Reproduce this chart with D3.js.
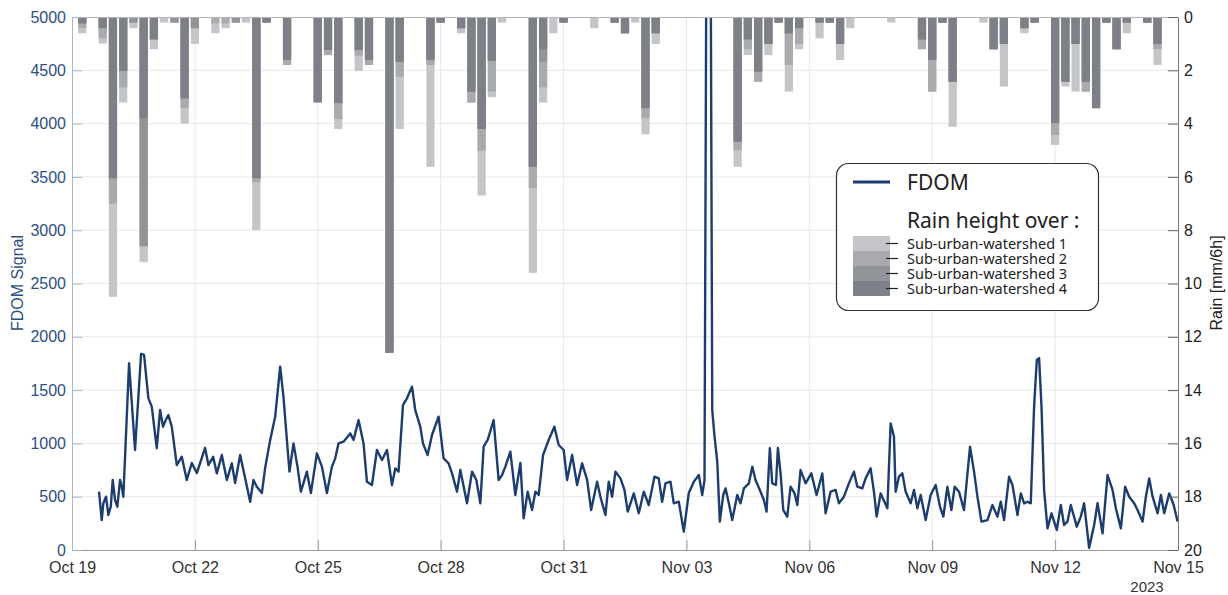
<!DOCTYPE html>
<html><head><meta charset="utf-8">
<script src="https://cdn.jsdelivr.net/npm/d3@7"></script>
<style>body{margin:0;background:#fff;} svg{display:block;}</style>
</head><body><svg id="c" width="1228" height="595"></svg>
<script>
// ---------- DATA ----------
const startDay = "2023-10-19";
const endDay = "2023-11-15";
const xTickDates = ["2023-10-19","2023-10-22","2023-10-25","2023-10-28","2023-10-31","2023-11-03","2023-11-06","2023-11-09","2023-11-12","2023-11-15"];
const fdomTicks = [0,500,1000,1500,2000,2500,3000,3500,4000,4500,5000];
const rainTicks = [0,2,4,6,8,10,12,14,16,18,20];
const seriesNames = ["Sub-urban-watershed 1","Sub-urban-watershed 2","Sub-urban-watershed 3","Sub-urban-watershed 4"];

// FDOM: days since Oct 19 00:00 and signal value
const fdomDay = [0.66,0.726,0.765,0.831,0.887,0.946,0.994,1.051,1.107,1.173,1.214,1.253,1.393,1.539,1.686,1.759,1.864,1.947,2.069,2.150,2.223,2.289,2.353,2.436,2.558,2.680,2.802,2.924,3.047,3.249,3.330,3.445,3.535,3.657,3.780,3.902,3.982,4.105,4.227,4.349,4.430,4.512,4.635,4.715,4.838,4.960,5.082,5.162,5.246,5.309,5.407,5.505,5.588,5.734,5.832,5.978,6.101,6.223,6.345,6.426,6.506,6.628,6.792,6.873,6.995,7.117,7.200,7.322,7.444,7.567,7.689,7.811,7.892,7.972,8.080,8.177,8.300,8.380,8.502,8.568,8.681,8.788,8.949,9.072,9.194,9.277,9.399,9.480,9.643,9.766,9.871,9.968,10.049,10.147,10.293,10.415,10.498,10.579,10.701,10.823,10.946,11.026,11.124,11.231,11.312,11.393,11.500,11.637,11.776,11.881,12.003,12.086,12.209,12.331,12.453,12.575,12.673,12.819,12.900,13.022,13.103,13.186,13.267,13.389,13.487,13.567,13.714,13.836,13.958,14.080,14.219,14.324,14.407,14.488,14.610,14.691,14.813,14.935,15.057,15.180,15.302,15.385,15.441,15.490,15.588,15.630,15.686,15.752,15.815,15.898,15.954,16.035,16.118,16.240,16.321,16.401,16.524,16.607,16.687,16.809,16.890,16.956,17.036,17.095,17.185,17.232,17.298,17.364,17.461,17.542,17.640,17.706,17.786,17.909,18.048,18.177,18.317,18.397,18.519,18.641,18.722,18.844,18.966,19.089,19.171,19.293,19.374,19.496,19.577,19.643,19.741,19.905,19.985,20.066,20.107,20.188,20.271,20.352,20.474,20.555,20.637,20.718,20.840,20.962,21.084,21.190,21.272,21.370,21.468,21.549,21.654,21.776,21.923,22.021,22.104,22.202,22.348,22.470,22.592,22.673,22.754,22.876,22.959,23.081,23.162,23.243,23.325,23.406,23.487,23.553,23.609,23.668,23.731,23.814,23.912,24.041,24.139,24.219,24.302,24.383,24.529,24.627,24.708,24.830,24.953,25.036,25.158,25.280,25.402,25.483,25.605,25.710,25.808,25.930,26.013,26.135,26.216,26.297,26.380,26.502,26.583,26.664,26.786,26.894,26.991];
const fdomValue = [547,281,438,500,328,406,657,469,406,657,594,500,1752,938,1839,1830,1425,1345,955,1313,1157,1219,1266,1157,797,875,657,816,722,957,797,875,719,891,657,813,628,891,672,453,657,594,534,770,1032,1250,1720,1438,1032,735,1000,782,547,735,534,907,782,534,782,860,1000,1016,1094,1032,1219,1000,641,610,938,844,938,610,766,735,1360,1423,1532,1313,1157,1000,891,1079,1250,860,813,719,547,750,438,735,657,438,969,1032,1219,657,703,782,922,516,816,297,547,375,547,516,891,1032,1157,985,938,657,891,610,813,657,375,641,500,328,641,500,735,672,563,360,531,344,547,422,688,672,453,625,641,438,453,172,534,641,703,516,657,6000,6000,1313,1063,828,266,516,578,438,281,516,438,578,625,782,657,547,469,360,954,625,610,957,719,375,313,594,531,422,750,625,719,516,719,344,547,563,438,500,625,735,594,578,672,766,547,313,531,391,1188,1063,547,688,719,547,438,563,391,516,281,516,610,406,313,594,375,594,547,375,969,735,500,266,281,422,313,453,281,688,610,328,531,438,453,438,1345,1782,1800,1345,563,203,344,188,422,235,266,422,219,313,438,20,235,438,156,703,563,391,203,594,500,438,375,266,500,672,500,344,516,344,531,422,266];

// Rain: 6-hour slot index since Oct 19 00:00, and rain height [mm/6h] per watershed
const rainSlot = [1,3,4,5,6,7,8,9,10,11, 12,14,15,16,17,18,19,21,24,25, 26,28,29,31,32,35,36,38,39,40, 41,42,45,46,47,48,51,53,54,55, 56,57,65,66,67,68,69,70,71,73, 74,75,76,80,83,84,85,86,89,90, 91,93,94,96,97,98,99,100,101,102, 103,105,106];
const rainW1 = [.61,1.0,10.5,3.21,.42,9.2,1.21,.21,.21,4.0, 1.01,.61,.42,.21,.21,8.0,.21,1.8,3.2,1.43, 4.2,2.03,1.8,12.6,4.2,5.62,.21,.61,3.21,6.7, 3.01,.21,9.6,3.21,.61,.21,.42,.21,.61,.21, 4.4,1.01,5.62,1.43,2.43,1.43,.21,2.8,1.21,.8, .21,1.61,.42,.21,1.21,2.8,.21,4.12,.21,1.21, 2.61,.61,.21,4.8,2.61,2.8,2.8,3.42,.21,1.21, .61,.21,1.8];
const rainW2 = [.42,.8,7.0,2.64,.21,8.6,.84,0,.21,3.42, .42,.24,.24,.21,0,6.2,.21,1.8,3.2,1.43, 3.83,1.45,1.8,12.6,2.24,1.8,.21,.42,3.21,5.02, 2.8,0,6.42,2.64,0,.21,0,.21,.61,0, 3.8,.61,5.0,1.21,2.43,1.01,.21,1.8,1.01,.21, .21,1.01,0,0,1.21,2.8,.21,2.43,0,1.21, 1.01,.42,.21,4.43,2.43,1.01,2.8,3.42,.21,1.21, .21,.21,1.2];
const rainW3 = [.24,.42,6.05,2.03,.21,8.6,.84,0,.21,3.05, .42,0,0,.21,0,6.05,.21,1.61,3.2,1.24, 3.23,1.24,1.61,12.6,1.68,1.61,.21,.42,2.8,4.2, 1.64,0,5.62,1.68,0,.21,0,.21,.61,0, 3.42,.61,4.68,.84,2.05,1.01,.21,.61,.42,.21, .21,1.01,0,0,.84,1.61,.21,2.43,0,1.21, 1.01,.42,.21,3.98,2.43,1.01,2.43,3.42,.21,1.21, .21,.21,1.01];
const rainW4 = [.24,.42,6.05,2.03,0,3.8,.84,0,0,3.05, 0,0,0,0,0,6.05,.21,1.61,3.2,1.24, 3.23,1.24,1.61,12.6,1.68,1.61,.21,.42,2.8,4.2, 1.64,0,5.62,1.21,0,.21,0,.21,.61,0, 3.42,.61,4.68,.84,2.05,1.01,.21,.61,.42,.21, .21,1.01,0,0,.84,1.61,.21,2.43,0,1.21, 1.01,.42,.21,3.98,2.43,1.01,2.43,3.42,.21,1.21, .21,.21,1.01];

// ---------- STYLE ----------
const seriesColors = ["#c3c5c8","#a8aaae","#919499","#7d8086"];
const lineColor = "#1c3d6e";
const plot = {left:72, right:1178, top:17, bottom:550};

// ---------- SCALES ----------
const parse = d3.utcParse("%Y-%m-%d");
const t0 = parse(startDay), t1 = parse(endDay);
const DAY = 864e5;
const x = d3.scaleUtc().domain([t0, t1]).range([plot.left, plot.right]);
const yF = d3.scaleLinear().domain([0,5000]).range([plot.bottom, plot.top]);
const yR = d3.scaleLinear().domain([0,20]).range([plot.top, plot.bottom]);

const svg = d3.select("#c");
svg.append("defs").append("clipPath").attr("id","clip")
  .append("rect").attr("x",plot.left).attr("y",plot.top)
  .attr("width",plot.right-plot.left).attr("height",plot.bottom-plot.top);

// grid
const grid = svg.append("g");
const xTicks = xTickDates.map(parse);
grid.selectAll("line.v").data(xTicks.slice(1,-1)).join("line")
  .attr("x1",d=>x(d)).attr("x2",d=>x(d)).attr("y1",plot.top).attr("y2",plot.bottom)
  .attr("stroke","#e8e8ec").attr("stroke-width",1);
grid.selectAll("line.h").data(fdomTicks.slice(1,-1)).join("line")
  .attr("x1",plot.left).attr("x2",plot.right).attr("y1",d=>yF(d)).attr("y2",d=>yF(d))
  .attr("stroke","#e8e8ec").attr("stroke-width",1);

// rain bars
const slotMs = 6*3600e3;
const barW = x(new Date(t0.getTime()+slotMs*0.8)) - x(t0);
const rainSeries = [rainW1, rainW2, rainW3, rainW4];
const barsG = svg.append("g").attr("clip-path","url(#clip)");
rainSeries.forEach((vals, s) => {
  const data = rainSlot.map((slot,i)=>({t:new Date(t0.getTime()+slot*slotMs), v:vals[i]})).filter(d=>d.v>0);
  barsG.append("g").selectAll("rect").data(data).join("rect")
    .attr("x",d=>x(d.t)-barW/2).attr("width",barW)
    .attr("y",yR(0)).attr("height",d=>yR(d.v)-yR(0))
    .attr("fill",seriesColors[s]);
});

// FDOM line
const fdomData = fdomDay.map((d,i)=>({t:new Date(t0.getTime()+d*DAY), v:fdomValue[i]}));
svg.append("path").datum(fdomData).attr("clip-path","url(#clip)")
  .attr("fill","none").attr("stroke",lineColor).attr("stroke-width",2.4)
  .attr("stroke-linejoin","round")
  .attr("d", d3.line().x(d=>x(d.t)).y(d=>yF(d.v)));

// frame top
svg.append("line").attr("x1",plot.left).attr("x2",plot.right).attr("y1",plot.top+0.5).attr("y2",plot.top+0.5)
  .attr("stroke","#b5b5b5");

// axes
const fontAx = "'Liberation Sans', Arial, sans-serif";
const xAxis = svg.append("g").attr("transform",`translate(0,${plot.bottom})`)
  .call(d3.axisBottom(x).tickValues(xTicks).tickFormat(d3.utcFormat("%b %d")).tickSizeInner(-10).tickSizeOuter(0).tickPadding(12));
xAxis.selectAll("text").attr("font-family",fontAx).attr("font-size",16).attr("fill","#333");
xAxis.selectAll("line").attr("stroke","#999");
xAxis.select(".domain").attr("stroke","#999");

const lAxis = svg.append("g").attr("transform",`translate(${plot.left},0)`)
  .call(d3.axisLeft(yF).tickValues(fdomTicks).tickFormat(d3.format("d")).tickSizeInner(-10).tickSizeOuter(0).tickPadding(6));
lAxis.selectAll("text").attr("font-family",fontAx).attr("font-size",16).attr("fill","#2e4f80");
lAxis.selectAll("line").attr("stroke","#a9b6cb");
lAxis.select(".domain").attr("stroke","#a9b6cb");

const rAxis = svg.append("g").attr("transform",`translate(${plot.right},0)`)
  .call(d3.axisRight(yR).tickValues(rainTicks).tickFormat(d3.format("d")).tickSizeInner(-10).tickSizeOuter(0).tickPadding(6));
rAxis.selectAll("text").attr("font-family",fontAx).attr("font-size",16).attr("fill","#222");
rAxis.selectAll("line").attr("stroke","#666");
rAxis.select(".domain").attr("stroke","#777");

// axis titles
svg.append("text").attr("transform","translate(23,283) rotate(-90)").attr("text-anchor","middle")
  .attr("font-family",fontAx).attr("font-size",16).attr("fill","#2e4f80").text("FDOM Signal");
svg.append("text").attr("transform","translate(1222,283) rotate(-90)").attr("text-anchor","middle")
  .attr("font-family",fontAx).attr("font-size",16).attr("fill","#222").text("Rain [mm/6h]");
svg.append("text").attr("x",1147).attr("y",592).attr("text-anchor","middle")
  .attr("font-family",fontAx).attr("font-size",15).attr("fill","#333").text(d3.utcFormat("%Y")(t1));

// legend
const lg = svg.append("g");
const fontLg = "'Noto Sans', 'Open Sans', sans-serif";
lg.append("rect").attr("x",836.5).attr("y",163.5).attr("width",262).attr("height",147).attr("rx",12)
  .attr("fill","#fff").attr("stroke","#333").attr("stroke-width",1.2);
lg.append("line").attr("x1",853).attr("x2",890).attr("y1",182).attr("y2",182)
  .attr("stroke",lineColor).attr("stroke-width",3);
lg.append("text").attr("x",907).attr("y",190).attr("font-family",fontLg).attr("font-size",21).attr("fill","#222").text("FDOM");
lg.append("text").attr("x",907).attr("y",228).attr("font-family",fontLg).attr("font-size",21).attr("fill","#222").text("Rain height over :");
seriesNames.forEach((name,i)=>{
  const yy = 236 + i*15;
  lg.append("rect").attr("x",853).attr("y",yy).attr("width",37).attr("height",15).attr("fill",seriesColors[i]);
  lg.append("line").attr("x1",886).attr("x2",898).attr("y1",yy+7.5).attr("y2",yy+7.5).attr("stroke","#222").attr("stroke-width",1.2);
  lg.append("text").attr("x",907).attr("y",yy+12.5).attr("font-family",fontLg).attr("font-size",14.5).attr("fill","#222").text(name);
});
</script>
</body></html>
